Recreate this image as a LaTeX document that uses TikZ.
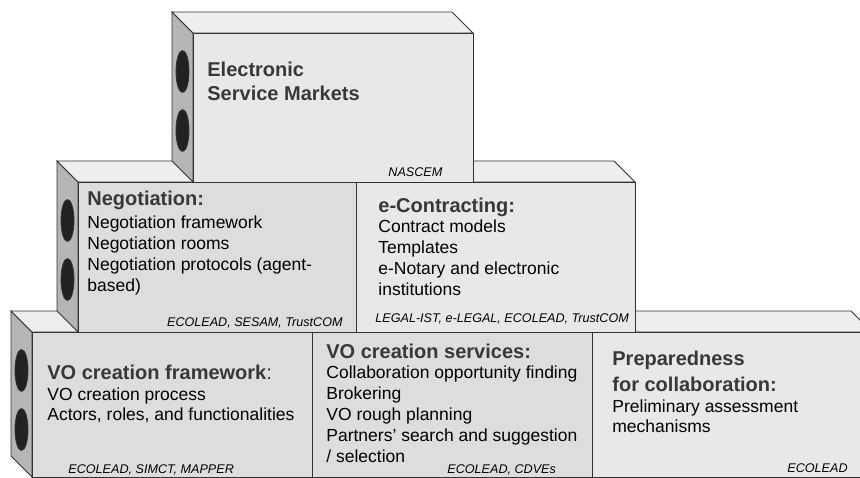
\documentclass[tikz,border=0pt]{standalone}
\usepackage{fontspec}
\setmainfont{Liberation Sans}
\definecolor{frontdark}{HTML}{DDDDDD}
\definecolor{frontlight}{HTML}{E8E8E8}
\definecolor{topgray}{HTML}{EEEEEE}
\definecolor{sidegray}{HTML}{B5B5B5}
\definecolor{holegray}{HTML}{222222}
\definecolor{edgegray}{HTML}{333333}
\definecolor{headgray}{HTML}{383838}
\def\hd{\fontsize{20}{24}\selectfont\bfseries\color{headgray}}
\def\bd{\fontsize{17.5}{21}\selectfont}
\def\rf{\fontsize{12.6}{15}\selectfont\itshape}
% one brick: front x, front y, width, height, front colour
\newcommand{\brick}[5]{%
  \filldraw[fill=sidegray] (#1-21,#2-21) -- (#1,#2) -- (#1,#2+#4) -- (#1-21,#2+#4-21) -- cycle;
  \filldraw[fill=topgray] (#1-21,#2-21) -- (#1+#3-21,#2-21) -- (#1+#3,#2) -- (#1,#2) -- cycle;
  \filldraw[fill=holegray] (#1-10.5,#2+38.5) ellipse (6.5 and 21);
  \filldraw[fill=holegray] (#1-10.5,#2+97.5) ellipse (6.5 and 21);
  \filldraw[fill=#5] (#1,#2) rectangle ++(#3,#4);
}

\begin{document}
\begin{tikzpicture}[x=1pt, y=-1pt, draw=edgegray, line width=0.8pt,
  every node/.style={inner sep=0pt, align=left}]
\clip (0,0) rectangle (860,477);
\fill[white] (0,0) rectangle (860,477);

% bottom row
\brick{592}{332}{280}{145}{frontlight}
\brick{312}{332}{280}{145}{frontdark}
\brick{32}{332}{280}{145}{frontdark}
% middle row
\brick{356}{182}{279}{150}{frontlight}
\brick{78}{182}{278}{150}{frontdark}
% top
\brick{193}{33}{280}{149}{frontlight}

% multi-line nodes sit on the baseline of their last line
\node[anchor=base west, font=\hd] (esm) at (207,100) {Electronic\\Service Markets};
\node[anchor=base west, font=\rf] (esmref) at (388,176) {NASCEM};

\node[anchor=base west, font=\hd] (neg) at (87,205) {Negotiation:};
\node[anchor=base west, font=\bd] (negtxt) at (87,291) {Negotiation framework\\Negotiation rooms\\Negotiation protocols (agent-\\based)};
\node[anchor=base east, font=\rf] (negref) at (343,326) {ECOLEAD, SESAM, TrustCOM};

\node[anchor=base west, font=\hd] (ecn) at (378,212) {e-Contracting:};
\node[anchor=base west, font=\bd] (ecntxt) at (378,295) {Contract models\\Templates\\e-Notary and electronic\\institutions};
\node[anchor=base west, font=\rf] (ecnref) at (375,322) {LEGAL-IST, e-LEGAL, ECOLEAD, TrustCOM};

\node[anchor=base west, font=\hd] (vof) at (47,379) {VO creation framework\textmd{:}};
\node[anchor=base west, font=\bd\fontsize{17.5}{20}\selectfont] (voftxt) at (47,420) {VO creation process\\Actors, roles, and functionalities};
\node[anchor=base west, font=\rf] (vofref) at (68,473) {ECOLEAD, SIMCT, MAPPER};

\node[anchor=base west, font=\hd] (vos) at (326,358) {VO creation services:};
\node[anchor=base west, font=\bd] (vostxt) at (326,462) {Collaboration opportunity finding\\Brokering\\VO rough planning\\Partners’ search and suggestion\\/ selection};
\node[anchor=base west, font=\rf] (vosref) at (447,473) {ECOLEAD, CDVEs};

\node[anchor=base west, font=\hd\fontsize{20}{26}\selectfont] (prep) at (612,391) {Preparedness\\for collaboration:};
\node[anchor=base west, font=\bd\fontsize{17.5}{20}\selectfont] (preptxt) at (612,432) {Preliminary assessment\\mechanisms};
\node[anchor=base east, font=\rf] (prepref) at (848,472) {ECOLEAD};
\end{tikzpicture}
\end{document}
